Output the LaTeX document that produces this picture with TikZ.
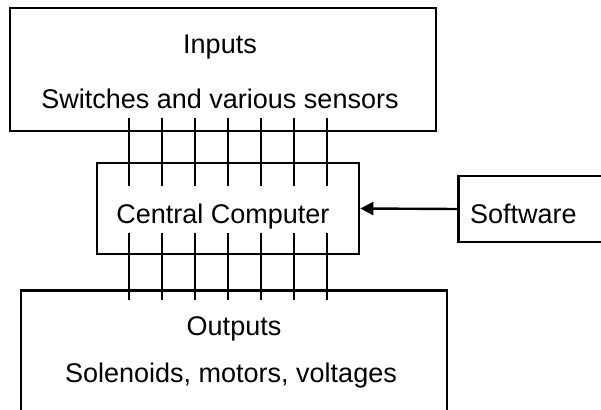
\documentclass[tikz,border=0pt]{standalone}
\usepackage{fontspec}
\setmainfont{Liberation Sans}
\usetikzlibrary{arrows.meta, positioning, calc}

\begin{document}
\begin{tikzpicture}[
  x=1pt, y=-1pt,
  >={Triangle[length=13pt, width=13pt]},
  box/.style={draw, line width=2.6pt, inner sep=0pt},
  bus/.style={line width=2.6pt},
  lbl/.style={font=\fontsize{27}{32}\selectfont, inner sep=0pt, anchor=base},
  arr/.style={->, line width=2.4pt},
]
\useasboundingbox (0,0) rectangle (601,409);

% Boxes
\node[box, minimum width=426pt, minimum height=123pt] (inputs) at (223,69.5) {};
\node[box, minimum width=262pt, minimum height=91pt] (cpu) at (228,208.5) {};
\node[box, minimum width=200pt, minimum height=66pt, anchor=west] (software) at (457,209) {};
\node[box, minimum width=426pt, minimum height=160pt, anchor=north] (outputs) at (234,289) {};

% Labels
\node[lbl] (inputs-title) at ([xshift=-3pt, yshift=-47pt]inputs.north) {Inputs};
\node[lbl] (inputs-list) at ([xshift=-3pt, yshift=-102pt]inputs.north) {Switches and various sensors};
\node[lbl] (cpu-label) at ([xshift=-5pt, yshift=-14.5pt]cpu.center) {Central Computer};
\node[lbl, anchor=base west] (software-label) at ([xshift=13pt, yshift=-14pt]software.west) {Software};
\node[lbl] (outputs-title) at ([yshift=-46pt]outputs.north) {Outputs};
\node[lbl] (outputs-list) at ([xshift=-3pt, yshift=-93pt]outputs.north) {Solenoids, motors, voltages};

% Bus lines
\foreach \dx in {-99,-66,-33,0,33,66,99} {
  \draw[bus] ($(cpu.north)+(\dx,-44)$) -- ($(cpu.north)+(\dx,24)$);
  \draw[bus] ($(cpu.south)+(\dx,-22)$) -- ($(cpu.south)+(\dx,45)$);
}

\draw[arr] (software.west) -- (cpu.east);

\end{tikzpicture}
\end{document}
